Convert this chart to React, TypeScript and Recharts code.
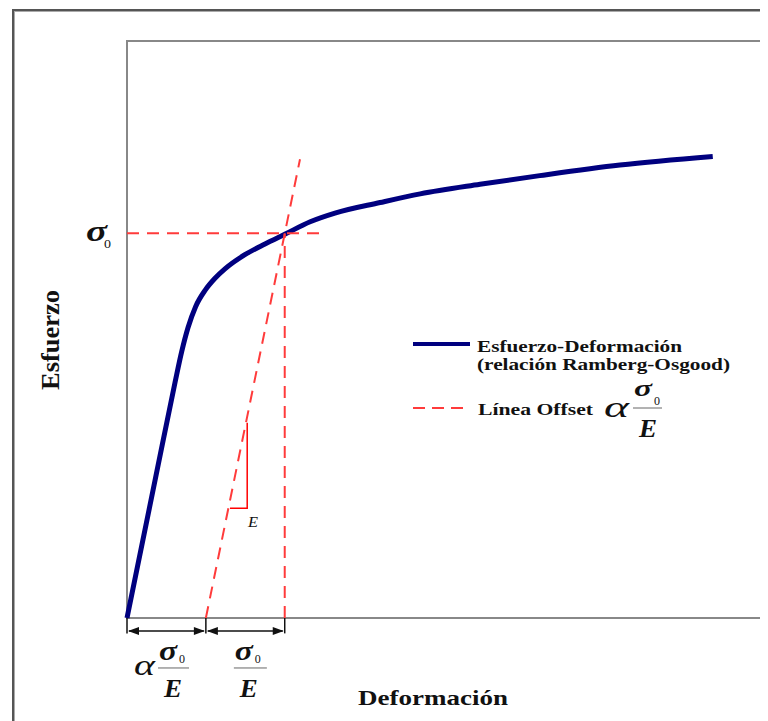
import React from "react"
import { LineChart, Line, XAxis, YAxis, ReferenceArea, ReferenceLine } from "recharts"

// Ramberg-Osgood curve (strain in arbitrary units, stress in units where sigma0 = 4)
const curveStrain = [0, 0.45, 0.755, 0.86, 0.96, 1.08, 1.23, 1.38, 1.54, 1.86, 2.17, 2.48, 2.88, 3.27, 3.98, 4.61, 5.55, 6.49, 7.75, 9.21]
const curveStress = [0, 1.46, 2.45, 2.77, 3.02, 3.24, 3.41, 3.53, 3.63, 3.78, 3.89, 3.99, 4.12, 4.21, 4.32, 4.41, 4.51, 4.6, 4.71, 4.8]

// offset line (parallel to the elastic slope)
const offsetStrain = [1.24, 2.72]
const offsetStress = [0, 4.77]

// sigma0 guides
const sigma0 = 4
const sigma0Strain = 2.48
const sigma0GuideEnd = 3.14

// small slope triangle "E"
const triStrain = [1.62, 1.89, 1.89]
const triStress = [1.14, 1.14, 2.03]

// dimension marks under the axis
const dimStrain = [0, 1.24, 2.48]
const dimY = -0.135
const dimTickY = -0.16

const yTicks = [0, 1, 2, 3, 4, 5, 6]

const toRows = (xs: number[], ys: number[]) => xs.map((x, i) => ({ x, y: ys[i] }))

const curveData = toRows(curveStrain, curveStress)
const offsetData = toRows(offsetStrain, offsetStress)
const hGuide = toRows([0, sigma0GuideEnd], [sigma0, sigma0])
const vGuide = toRows([sigma0Strain, sigma0Strain], [0, sigma0])
const triData = toRows(triStrain, triStress)

const serif = "'Liberation Serif', 'Times New Roman', serif"
const NAVY = "#00007f"
const RED = "#ff3b3b"

function T({ x, y, size, w, bold, italic, anchor, children, transform }: any) {
  return (
    <text
      x={x}
      y={y}
      fontFamily={serif}
      fontSize={size}
      fontWeight={bold ? "bold" : "normal"}
      fontStyle={italic ? "italic" : "normal"}
      textLength={w}
      lengthAdjust={w ? "spacingAndGlyphs" : undefined}
      textAnchor={anchor || "start"}
      transform={transform}
      fill="#111"
    >
      {children}
    </text>
  )
}

// sigma0 / E stacked fraction, L = left of the bar, barY = bar height
function Fraction({ L, barY, w, sigUp = 8, subUp = 5, sigSize = 27 }: any) {
  return (
    <g>
      <T x={L + 1} y={barY - sigUp} size={sigSize} w={18} bold italic>σ</T>
      <T x={L + 21} y={barY - subUp} size={12} w={6}>0</T>
      <line x1={L} x2={L + w} y1={barY} y2={barY} stroke="#666" strokeWidth={1} />
      <T x={L + 6} y={barY + 29} size={25} w={18} bold italic>E</T>
    </g>
  )
}

function DimArrow(props: any) {
  const { x1, x2, y1, withAlpha } = props
  const y = y1
  const L = withAlpha ? x1 + 31 : x1 + 28
  const barY = y + 37
  return (
    <g>
      <line x1={x1 + 2} x2={x2 - 2} y1={y} y2={y} stroke="#111" strokeWidth={1.5} />
      <polygon points={`${x1 + 1},${y} ${x1 + 12},${y - 4} ${x1 + 12},${y + 4}`} fill="#111" />
      <polygon points={`${x2 - 1},${y} ${x2 - 12},${y - 4} ${x2 - 12},${y + 4}`} fill="#111" />
      {withAlpha && <T x={L - 24} y={barY + 7} size={30} w={21} italic>α</T>}
      <Fraction L={L} barY={barY} w={withAlpha ? 31 : 33} />
    </g>
  )
}

function Annotations() {
  return (
    <g>
      {/* axis titles */}
      <T x={350} y={697} size={22} w={150} bold>Deformación</T>
      <T x={0} y={0} size={25} w={100} bold anchor="middle" transform="translate(51,332) rotate(-90)">Esfuerzo</T>

      {/* sigma0 on the stress axis */}
      <T x={78} y={233} size={29} w={21} bold italic>σ</T>
      <T x={96} y={240} size={13} w={7}>0</T>

      {/* slope label */}
      <T x={240} y={519} size={14} w={10} italic>E</T>

      {/* legend */}
      <line x1={405} x2={462} y1={336} y2={336} stroke={NAVY} strokeWidth={4} />
      <T x={469} y={344} size={17} w={205} bold>Esfuerzo-Deformación</T>
      <T x={469} y={362} size={17} w={253} bold>(relación Ramberg-Osgood)</T>
      <line x1={405} x2={456} y1={400} y2={400} stroke={RED} strokeWidth={2} strokeDasharray="12 7" />
      <T x={470} y={407} size={17} w={115} bold>Línea Offset</T>
      <T x={596} y={409} size={30} w={25} italic>α</T>
      <Fraction L={625} barY={400} w={29} sigUp={12} subUp={3} sigSize={23} />
    </g>
  )
}

export default function App() {
  return (
    <div style={{ position: "relative", width: 760, height: 713, overflow: "hidden", background: "#fff" }}>
      <div
        style={{
          position: "absolute",
          left: 4,
          top: 1,
          width: 900,
          height: 900,
          border: "2px solid #555",
          boxShadow: "inset 1px 1px 0 #aaa",
        }}
      />
      <div style={{ position: "absolute", left: 0, top: 0 }}>
        <LineChart width={760} height={713} margin={{ top: 33, right: 5, bottom: 103, left: 119 }}>
          <XAxis type="number" dataKey="x" domain={[0, 10]} tick={false} tickLine={false} height={0} axisLine={{ stroke: "#888", strokeWidth: 2 }} />
          <YAxis
            type="number"
            domain={[0, 6]}
            ticks={yTicks}
            tickFormatter={() => ""}
            tickSize={4}
            tickLine={{ stroke: "#c8c8c8" }}
            mirror
            width={0}
            axisLine={{ stroke: "#888", strokeWidth: 2 }}
          />
          <ReferenceArea x1={0} x2={10} y1={0} y2={6} fill="none" stroke="#888" strokeWidth={2} ifOverflow="visible" />

          <Line data={curveData} dataKey="y" type="monotone" stroke={NAVY} strokeWidth={5} dot={false} isAnimationActive={false} />
          <Line data={hGuide} dataKey="y" type="linear" stroke={RED} strokeWidth={2} strokeDasharray="12 8" dot={false} isAnimationActive={false} />
          <Line data={vGuide} dataKey="y" type="linear" stroke={RED} strokeWidth={2} strokeDasharray="12 8" dot={false} isAnimationActive={false} />
          <Line data={offsetData} dataKey="y" type="linear" stroke={RED} strokeWidth={2} strokeDasharray="12 8" dot={false} isAnimationActive={false} />
          <Line data={triData} dataKey="y" type="linear" stroke="#ff0000" strokeWidth={1.5} dot={false} isAnimationActive={false} />

          {dimStrain.map((d) => (
            <ReferenceLine key={d} segment={[{ x: d, y: 0 }, { x: d, y: dimTickY }]} stroke="#111" strokeWidth={1.5} ifOverflow="visible" />
          ))}
          <ReferenceLine
            segment={[{ x: dimStrain[0], y: dimY }, { x: dimStrain[1], y: dimY }]}
            ifOverflow="visible"
            shape={(p: any) => <DimArrow {...p} withAlpha />}
          />
          <ReferenceLine
            segment={[{ x: dimStrain[1], y: dimY }, { x: dimStrain[2], y: dimY }]}
            ifOverflow="visible"
            shape={(p: any) => <DimArrow {...p} />}
          />

          <Annotations />
        </LineChart>
      </div>
    </div>
  )
}
